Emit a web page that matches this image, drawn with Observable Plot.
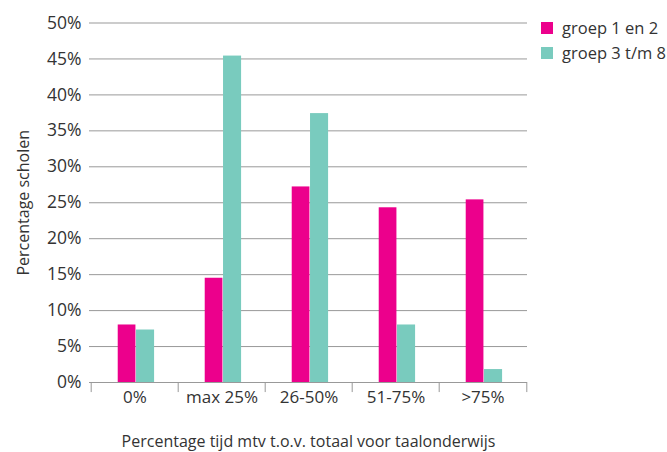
<!DOCTYPE html>
<html><head><meta charset="utf-8">
<script src="https://cdn.jsdelivr.net/npm/d3@7"></script>
<script src="https://cdn.jsdelivr.net/npm/@observablehq/plot@0.6"></script>
<style>
body{margin:0;background:#fff;font-family:"Open Sans",sans-serif;}
#wrap{position:relative;width:667px;height:452px;}
.legend{position:absolute;left:541px;top:15px;font-size:16.5px;color:#333;font-family:"Open Sans",sans-serif;}
.legend .row{display:flex;align-items:center;height:25px;white-space:nowrap}
.legend .sw{width:12px;height:12px;margin-right:9px;flex:none}
</style></head><body><div id="wrap"></div>
<script>
const categories = ["0%","max 25%","26-50%","51-75%",">75%"];
const groups = ["groep 1 en 2","groep 3 t/m 8"];
const groep12 = [8.0, 14.5, 27.2, 24.3, 25.4];
const groep38 = [7.3, 45.4, 37.4, 8.0, 1.8];
const colors = ["#EC008C","#79CBBE"];
const yTicks = d3.range(0, 51, 5);
const xTitle = "Percentage tijd mtv t.o.v. totaal voor taalonderwijs";
const yTitle = "Percentage scholen";

const data = categories.flatMap((c, i) => [
  {cat: c, group: groups[0], value: groep12[i]},
  {cat: c, group: groups[1], value: groep38[i]}
]);

const W = 667, H = 452, mL = 89, mR = 140;
const bw = (W - mL - mR) / categories.length;

const chart = Plot.plot({
  width: W, height: H,
  marginLeft: mL, marginRight: mR, marginTop: 22.5, marginBottom: 70,
  style: {fontFamily: "'Open Sans', sans-serif", fontSize: "16px", color: "#333", background: "#fff"},
  x: {domain: categories, padding: 0},
  y: {domain: [0, 50]},
  color: {domain: groups, range: colors},
  marks: [
    Plot.gridY(yTicks, {stroke: "#999", strokeOpacity: 1, strokeWidth: 1}),
    Plot.barY(data.filter(d => d.group === groups[0]), {
      x: "cat", y: "value", fill: "group",
      insetLeft: bw * 0.305, insetRight: bw * (1 - 0.514)
    }),
    Plot.barY(data.filter(d => d.group === groups[1]), {
      x: "cat", y: "value", fill: "group",
      insetLeft: bw * 0.514, insetRight: bw * (1 - 0.727)
    }),
    Plot.ruleY([0], {stroke: "#999", strokeWidth: 1}),
    Plot.ruleX(categories, {x: d => d, dx: -bw / 2, y1: 0, y2: -1.4, stroke: "#999"}),
    Plot.ruleX(categories.slice(-1), {x: d => d, dx: bw / 2, y1: 0, y2: -1.4, stroke: "#999"}),
    Plot.axisY(yTicks, {tickSize: 0, tickPadding: 8, fontSize: 17.5, tickFormat: d => d + "%",
      label: null}),
    Plot.axisY(yTicks, {tickSize: 0, tickFormat: () => "", fontSize: 16,
      label: yTitle, labelAnchor: "center", labelOffset: 72, labelArrow: "none"}),
    Plot.axisX({tickSize: 0, tickPadding: 8, fontSize: 17, label: null}),
    Plot.axisX({tickSize: 0, tickFormat: () => "", fontSize: 16,
      label: xTitle, labelAnchor: "center", labelOffset: 64, labelArrow: "none"})
  ]
});

const wrap = document.getElementById("wrap");
wrap.appendChild(chart);
const legend = document.createElement("div");
legend.className = "legend";
groups.forEach((g, i) => {
  const row = document.createElement("div");
  row.className = "row";
  const sw = document.createElement("span");
  sw.className = "sw";
  sw.style.background = colors[i];
  const t = document.createElement("span");
  t.textContent = g;
  row.appendChild(sw); row.appendChild(t);
  legend.appendChild(row);
});
wrap.appendChild(legend);
</script></body></html>
